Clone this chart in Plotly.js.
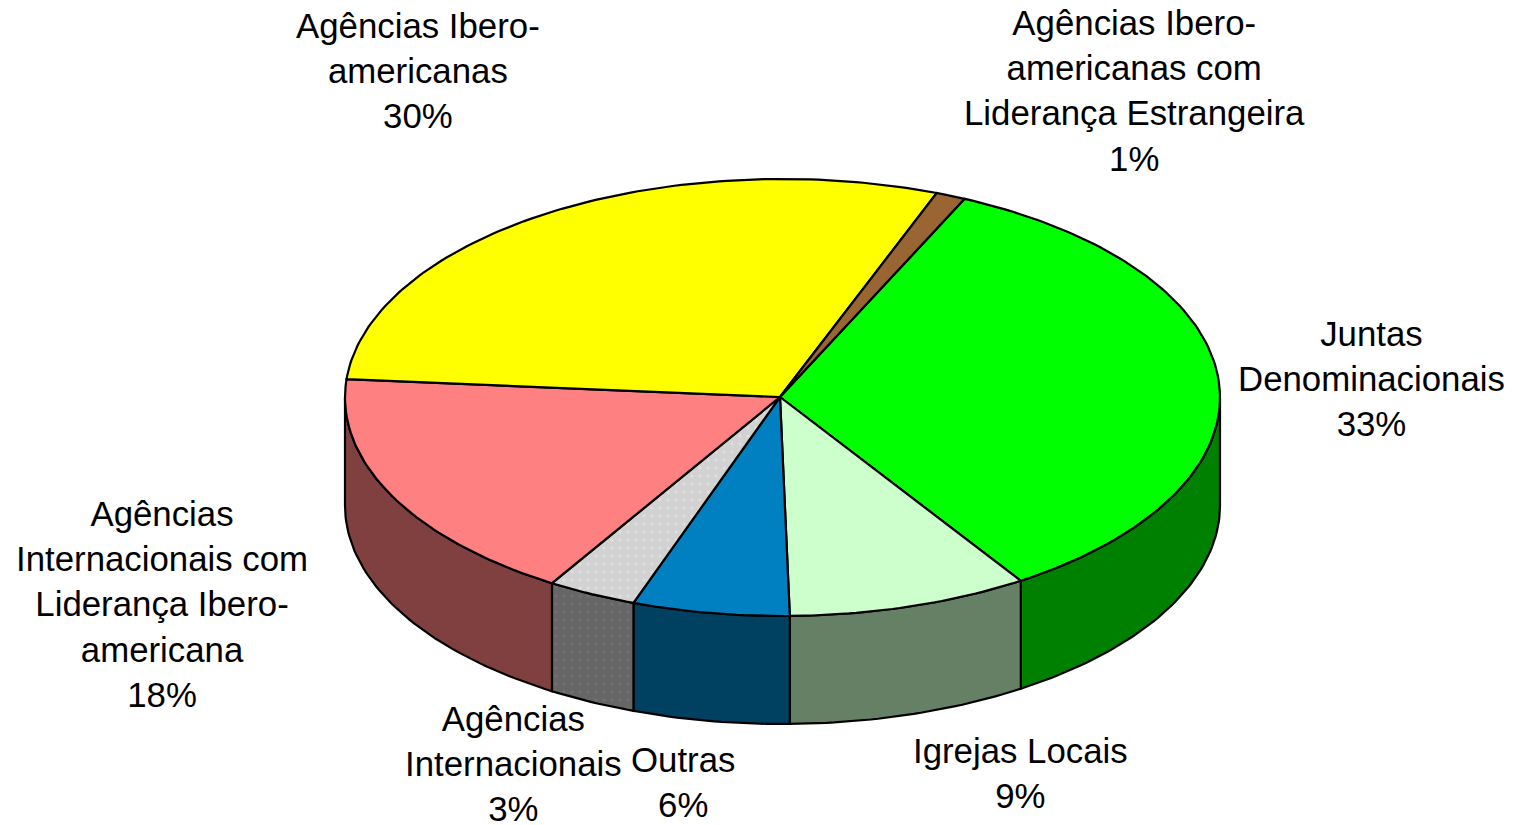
<!DOCTYPE html>
<html><head><meta charset="utf-8">
<script src="https://cdn.plot.ly/plotly-3.0.1.min.js"></script>
<style>html,body{margin:0;padding:0;background:#fff;overflow:hidden}#c{width:1515px;height:825px}</style>
</head><body><div id="c"></div>
<script>
// Slices in drawing order (clockwise from the brown/green boundary)
const categories = ["Juntas<br>Denominacionais","Igrejas Locais","Outras","Agências<br>Internacionais","Agências<br>Internacionais com<br>Liderança Ibero-<br>americana","Agências Ibero-<br>americanas","Agências Ibero-<br>americanas com<br>Liderança Estrangeira"];
const shownPercent = [33,9,6,3,18,30,1];
// slice extents (the drawn shares differ slightly from the printed labels)
const drawnShare = [34.0,8.9,5.8,3.3,17.5,29.4,1.1];
const topColors = ["#00FF00","#CCFFCC","#0080C0","#D6D6D6","#FF8080","#FFFF00","#996633"];
const sideColors = ["#008000","#668066","#004060","#6B6B6B","#804040","#808000","#4D3319"];
const labelX = [1371,1020,683,513,162,418,1134];
const labelY = [378,773,781.5,763.5,603.5,70,90.5];

// pie geometry in page pixels
const cx=782.5, cy=397.5, rx=437.5, ry=218.5, depth=108, startDeg=24.6;
const pt=(deg,dy)=>{const r=deg*Math.PI/180;return [cx+rx*Math.sin(r), cy-ry*Math.cos(r)+dy];};
const arc=(a,b,dy)=>{const n=Math.max(2,Math.ceil(Math.abs(b-a)));const o=[];for(let i=0;i<=n;i++)o.push(pt(a+(b-a)*i/n,dy));return o;};

const total=drawnShare.reduce((s,v)=>s+v,0);
let ang=startDeg; const spans=drawnShare.map(v=>{const a=ang;ang+=v/total*360;return [a,ang];});
const traces=[];
const poly=(pts,color,pattern)=>{
  const t={type:'scatter',mode:'lines',x:pts.map(p=>p[0]),y:pts.map(p=>p[1]),fill:'toself',fillcolor:color,
    line:{color:'#000',width:2.2,shape:'linear'},hoverinfo:'skip',showlegend:false};
  if(pattern) t.fillpattern=pattern;
  traces.push(t);
};
// outer wall (only the front half of the ellipse is visible)
spans.forEach(([a,b],i)=>{
  const lo=Math.max(a,90), hi=Math.min(b,270);
  if(hi<=lo) return;
  const top=arc(lo,hi,0), bot=arc(hi,lo,depth);
  const pts=top.concat(bot,[top[0]]);
  poly(pts,sideColors[i], i===3?{shape:'.',bgcolor:'#666666',fgcolor:'#727272',size:8,solidity:0.12,fillmode:'replace'}:null);
});
// top face
spans.forEach(([a,b],i)=>{
  const pts=[[cx-2.5,cy-0.5]].concat(arc(a,b,0),[[cx-2.5,cy-0.5]]);
  poly(pts,topColors[i], i===3?{shape:'.',bgcolor:'#D2D2D2',fgcolor:'#E0E0E0',size:8,solidity:0.12,fillmode:'replace'}:null);
});

const annotations=categories.map((c,i)=>({x:labelX[i],y:labelY[i],xref:'x',yref:'y',text:c+'<br>'+shownPercent[i]+'%',
  showarrow:false,xanchor:'center',yanchor:'middle',align:'center',
  font:{family:'"Liberation Sans", Arial, sans-serif',size:34.8,color:'#000'}}));

Plotly.newPlot('c',traces,{
  width:1515,height:825,margin:{l:0,r:0,t:0,b:0},paper_bgcolor:'#fff',plot_bgcolor:'#fff',showlegend:false,
  xaxis:{range:[0,1515],visible:false,fixedrange:true},
  yaxis:{range:[825,0],visible:false,fixedrange:true},
  annotations
},{displayModeBar:false,staticPlot:true});
</script></body></html>
